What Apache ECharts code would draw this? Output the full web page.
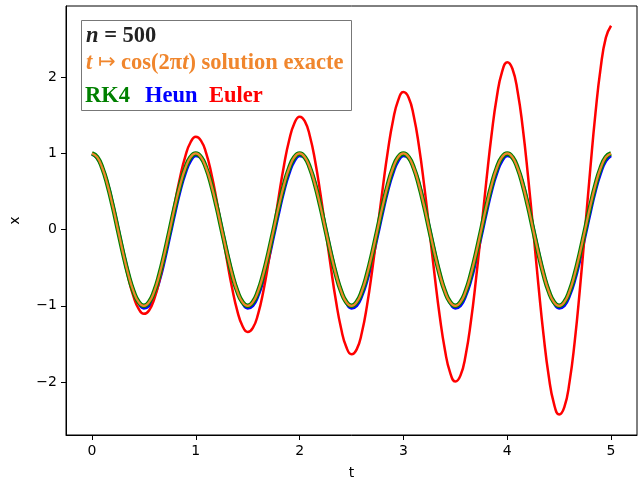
<!DOCTYPE html>
<html>
<head>
<meta charset="utf-8">
<script src="https://cdn.jsdelivr.net/npm/echarts@6/dist/echarts.min.js"></script>
<style>
html,body{margin:0;padding:0;background:#fff;}
#chart{width:640px;height:481px;}
</style>
</head>
<body>
<div id="chart"></div>
<script>
const tVals = [0,0.05,0.1,0.15,0.2,0.25,0.3,0.35,0.4,0.45,0.5,0.55,0.6,0.65,0.7,0.75,0.8,0.85,0.9,0.95,
1,1.05,1.1,1.15,1.2,1.25,1.3,1.35,1.4,1.45,1.5,1.55,1.6,1.65,1.7,1.75,1.8,1.85,1.9,1.95,
2,2.05,2.1,2.15,2.2,2.25,2.3,2.35,2.4,2.45,2.5,2.55,2.6,2.65,2.7,2.75,2.8,2.85,2.9,2.95,
3,3.05,3.1,3.15,3.2,3.25,3.3,3.35,3.4,3.45,3.5,3.55,3.6,3.65,3.7,3.75,3.8,3.85,3.9,3.95,
4,4.05,4.1,4.15,4.2,4.25,4.3,4.35,4.4,4.45,4.5,4.55,4.6,4.65,4.7,4.75,4.8,4.85,4.9,4.95,5];

const exactVals = [1,0.951,0.809,0.588,0.309,0,-0.309,-0.588,-0.809,-0.951,-1,-0.951,-0.809,-0.588,-0.309,0,0.309,0.588,0.809,0.951,
1,0.951,0.809,0.588,0.309,0,-0.309,-0.588,-0.809,-0.951,-1,-0.951,-0.809,-0.588,-0.309,0,0.309,0.588,0.809,0.951,
1,0.951,0.809,0.588,0.309,0,-0.309,-0.588,-0.809,-0.951,-1,-0.951,-0.809,-0.588,-0.309,0,0.309,0.588,0.809,0.951,
1,0.951,0.809,0.588,0.309,0,-0.309,-0.588,-0.809,-0.951,-1,-0.951,-0.809,-0.588,-0.309,0,0.309,0.588,0.809,0.951,
1,0.951,0.809,0.588,0.309,0,-0.309,-0.588,-0.809,-0.951,-1,-0.951,-0.809,-0.588,-0.309,0,0.309,0.588,0.809,0.951,1];

const rk4Vals = [1,0.951,0.809,0.588,0.309,0,-0.309,-0.588,-0.809,-0.951,-1,-0.951,-0.809,-0.588,-0.309,0,0.309,0.588,0.809,0.951,
1,0.951,0.809,0.588,0.309,0,-0.309,-0.588,-0.809,-0.951,-1,-0.951,-0.809,-0.588,-0.309,0,0.309,0.588,0.809,0.951,
1,0.951,0.809,0.588,0.309,0,-0.309,-0.588,-0.809,-0.951,-1,-0.951,-0.809,-0.588,-0.309,0,0.309,0.588,0.809,0.951,
1,0.951,0.809,0.588,0.309,0,-0.309,-0.588,-0.809,-0.951,-1,-0.951,-0.809,-0.588,-0.309,0,0.309,0.588,0.809,0.951,
1,0.951,0.809,0.588,0.309,0,-0.309,-0.588,-0.809,-0.951,-1,-0.951,-0.809,-0.588,-0.309,0,0.309,0.588,0.809,0.951,1];

const heunVals = [0.99,0.94,0.81,0.61,0.34,0.03,-0.28,-0.57,-0.80,-0.96,-1.03,-1.00,-0.87,-0.67,-0.40,-0.09,0.22,0.51,0.74,0.90,
0.97,0.94,0.81,0.61,0.34,0.03,-0.28,-0.57,-0.80,-0.96,-1.03,-1.00,-0.87,-0.67,-0.40,-0.09,0.22,0.51,0.74,0.90,
0.97,0.94,0.81,0.61,0.34,0.03,-0.28,-0.57,-0.80,-0.96,-1.03,-1.00,-0.87,-0.67,-0.40,-0.09,0.22,0.51,0.74,0.90,
0.97,0.94,0.81,0.61,0.34,0.03,-0.28,-0.57,-0.80,-0.96,-1.03,-1.00,-0.87,-0.67,-0.40,-0.09,0.22,0.51,0.74,0.90,
0.97,0.94,0.81,0.61,0.34,0.03,-0.28,-0.57,-0.80,-0.96,-1.03,-1.00,-0.87,-0.67,-0.40,-0.09,0.22,0.51,0.74,0.90,0.97];

const eulerVals = [1.00,0.960,0.825,0.606,0.321,0,-0.328,-0.630,-0.875,-1.039,-1.104,-1.060,-0.910,-0.668,-0.355,0,0.362,0.695,0.966,1.147,
1.218,1.169,1.005,0.737,0.391,0,-0.399,-0.767,-1.066,-1.265,-1.344,-1.290,-1.109,-0.814,-0.432,0,0.440,0.846,1.176,1.396,
1.483,1.424,1.223,0.898,0.477,0,-0.486,-0.934,-1.298,-1.541,-1.636,-1.571,-1.350,-0.991,-0.526,0,0.536,1.031,1.432,1.700,
1.805,1.734,1.489,1.093,0.580,0,-0.592,-1.137,-1.580,-1.876,-1.992,-1.913,-1.644,-1.206,-0.640,0,0.653,1.255,1.744,2.070,
2.198,2.111,1.814,1.331,0.706,0,-0.720,-1.385,-1.924,-2.284,-2.425,-2.329,-2.001,-1.469,-0.780,0,0.795,1.528,2.123,2.520,2.676];

const xTicks = [0,1,2,3,4,5];
const yTicks = [-2,-1,0,1,2];

const pairs = vals => tVals.map((t, i) => [t, vals[i]]);
const fmt = v => v < 0 ? '\u2212' + (-v) : String(v);

const chart = echarts.init(document.getElementById('chart'), null, {renderer: 'canvas'});
const axisFont = {fontFamily: 'DejaVu Sans', fontSize: 14, color: '#000'};
const serif = 'Liberation Serif';
const FS = 22.5;
const orange = '#f0862d';

chart.setOption({
  animation: false,
  backgroundColor: '#fff',
  grid: {left: 66, right: 3, top: 6, bottom: 46, show: true, borderColor: '#000', borderWidth: 1, backgroundColor: 'transparent', containLabel: false, outerBoundsMode: 'none'},
  xAxis: {
    type: 'value', min: -0.25, max: 5.25,
    name: 't', nameLocation: 'middle', nameGap: 31,
    nameTextStyle: axisFont,
    axisLine: {show: true, onZero: false, lineStyle: {color: '#000', width: 1}},
    axisTick: {show: true, inside: false, length: 5, customValues: xTicks, lineStyle: {color: '#000', width: 1}},
    axisLabel: Object.assign({margin: 9, customValues: xTicks, formatter: fmt}, axisFont),
    splitLine: {show: false}
  },
  yAxis: {
    type: 'value', min: -2.695, max: 2.935,
    name: 'x', nameLocation: 'middle', nameGap: 44,
    nameTextStyle: axisFont,
    axisLine: {show: true, onZero: false, lineStyle: {color: '#000', width: 1}},
    axisTick: {show: true, inside: false, length: 5, customValues: yTicks, lineStyle: {color: '#000', width: 1}},
    axisLabel: Object.assign({margin: 9, customValues: yTicks, formatter: fmt}, axisFont),
    splitLine: {show: false}
  },
  series: [
    {name: 'Heun', type: 'line', data: pairs(heunVals), smooth: 0.5, showSymbol: false, lineStyle: {color: '#0000ff', width: 3}, z: 2},
    {name: 'Euler', type: 'line', data: pairs(eulerVals), smooth: 0.5, showSymbol: false, lineStyle: {color: '#ff0000', width: 2.5}, z: 3},
    {name: 'RK4', type: 'line', data: pairs(rk4Vals), smooth: 0.5, showSymbol: false, lineStyle: {color: '#008000', width: 4.5}, z: 4},
    {name: 'exact', type: 'line', data: pairs(exactVals), smooth: 0.5, showSymbol: false, lineStyle: {color: orange, width: 2.2}, z: 5}
  ],
  graphic: [
    {type: 'rect', shape: {x: 81.5, y: 20.5, width: 270, height: 90}, style: {fill: '#fff', stroke: '#777', lineWidth: 1}, z: 100},
    {type: 'text', x: 86, y: 36, z: 101, style: {
      text: '{i|n} = 500', fill: '#222', verticalAlign: 'middle',
      font: 'bold ' + FS + 'px "Liberation Serif"',
      rich: {i: {fontFamily: serif, fontStyle: 'italic', fontWeight: 'bold', fontSize: FS, fill: '#222'}}
    }},
    {type: 'text', x: 86, y: 63, z: 101, style: {
      text: '{i|t} {a|\u21a6} cos(2\u03c0{i|t}) solution exacte', fill: orange, verticalAlign: 'middle',
      font: 'bold ' + FS + 'px "Liberation Serif"',
      rich: {
        i: {fontFamily: serif, fontStyle: 'italic', fontWeight: 'bold', fontSize: FS, fill: orange},
        a: {fontFamily: 'DejaVu Sans', fontWeight: 'normal', fontSize: 21, fill: orange}
      }
    }},
    {type: 'text', x: 85, y: 96, z: 101, style: {text: 'RK4', fill: '#008000', verticalAlign: 'middle', font: 'bold ' + FS + 'px "Liberation Serif"'}},
    {type: 'text', x: 145, y: 96, z: 101, style: {text: 'Heun', fill: '#0000ff', verticalAlign: 'middle', font: 'bold ' + FS + 'px "Liberation Serif"'}},
    {type: 'text', x: 209, y: 96, z: 101, style: {text: 'Euler', fill: '#ff0000', verticalAlign: 'middle', font: 'bold ' + FS + 'px "Liberation Serif"'}}
  ]
});
</script>
</body>
</html>
